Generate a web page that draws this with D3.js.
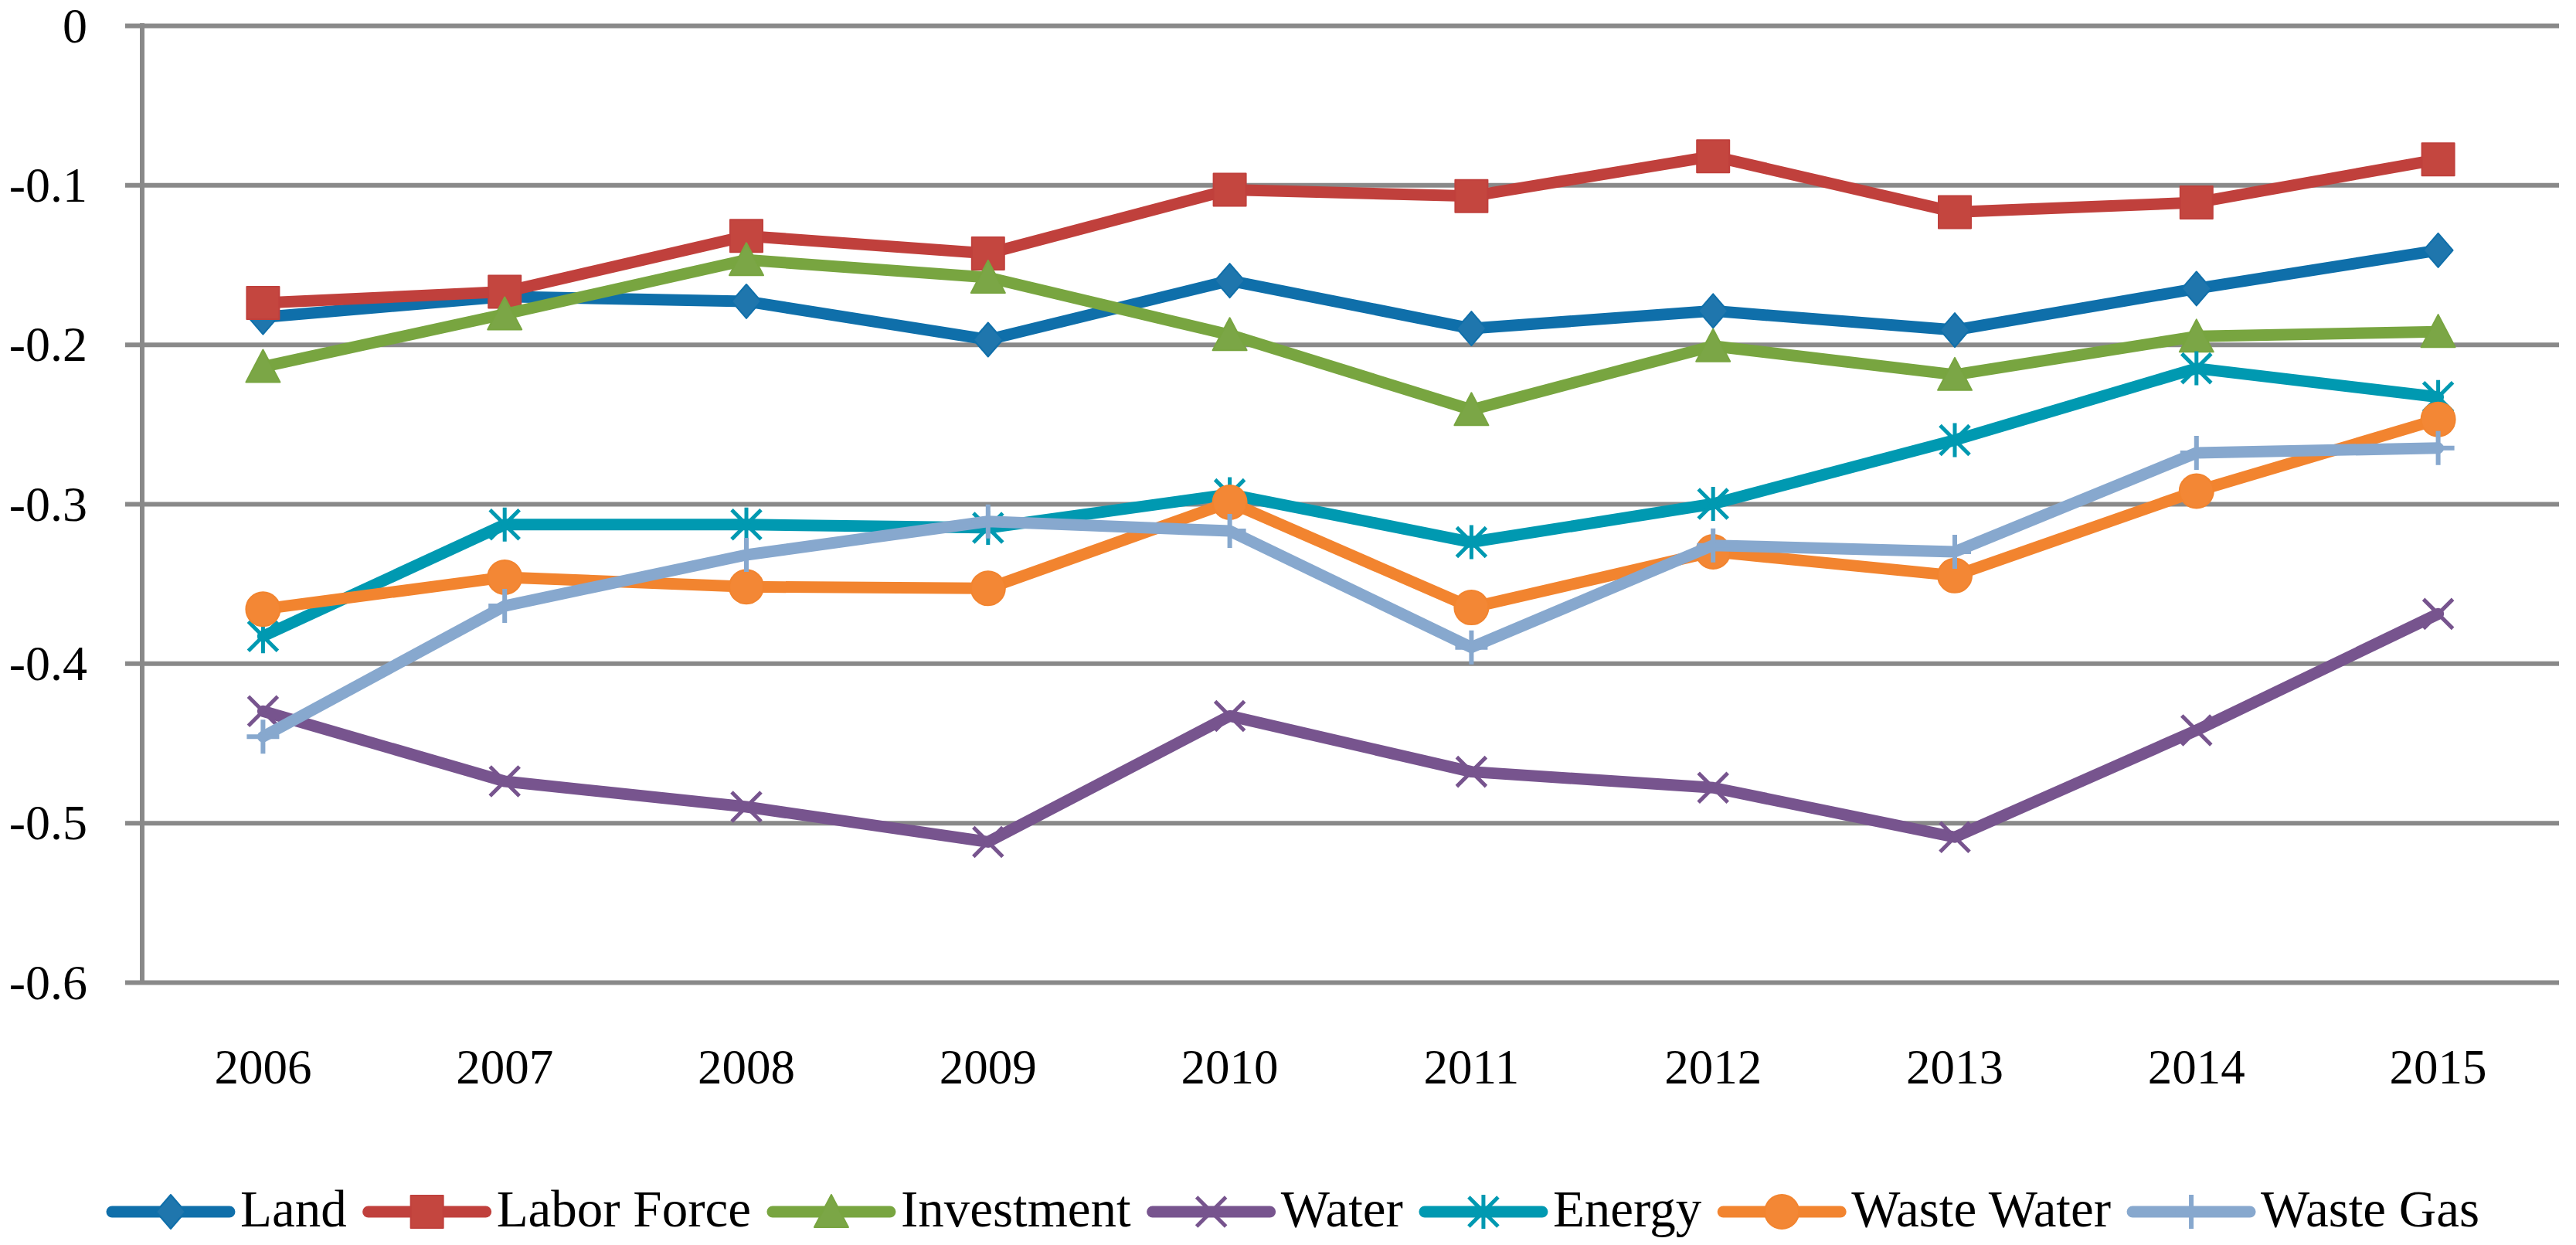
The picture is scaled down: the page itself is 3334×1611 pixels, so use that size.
<!DOCTYPE html>
<html>
<head>
<meta charset="utf-8">
<script src="https://cdn.jsdelivr.net/npm/d3@7"></script>
<style>
  body { margin: 0; background: #fff; }
  text { font-family: "Liberation Serif", "DejaVu Serif", serif; fill: #000; }
</style>
</head>
<body>
<div id="chart"></div>
<script>
// values
const years = ['2006', '2007', '2008', '2009', '2010', '2011', '2012', '2013', '2014', '2015']
const yTicks = [0, -0.1, -0.2, -0.3, -0.4, -0.5, -0.6]

const land = [-0.183, -0.170, -0.173, -0.197, -0.160, -0.190, -0.179, -0.191, -0.165, -0.141]
const laborForce = [-0.174, -0.167, -0.132, -0.143, -0.103, -0.107, -0.082, -0.117, -0.111, -0.084]
const investment = [-0.214, -0.181, -0.147, -0.158, -0.194, -0.241, -0.201, -0.219, -0.195, -0.192]
const water = [-0.430, -0.474, -0.490, -0.512, -0.433, -0.468, -0.478, -0.509, -0.442, -0.369]
const energy = [-0.383, -0.313, -0.313, -0.315, -0.294, -0.324, -0.300, -0.260, -0.215, -0.233]
const wasteWater = [-0.366, -0.346, -0.352, -0.353, -0.299, -0.365, -0.330, -0.345, -0.292, -0.247]
const wasteGas = [-0.446, -0.364, -0.332, -0.311, -0.317, -0.390, -0.326, -0.330, -0.268, -0.265]

const seriesNames = ['Land', 'Labor Force', 'Investment', 'Water', 'Energy', 'Waste Water', 'Waste Gas']
const seriesValues = [land, laborForce, investment, water, energy, wasteWater, wasteGas]
const lineColors = ['#0F6FAA', '#C0403C', '#78A540', '#77548E', '#0099B1', '#F2842F', '#87A8CE']
const markerColors = ['#1F76AD', '#C4463F', '#7BA646', '#77548E', '#0099B1', '#F38735', '#87A8CE']
const markerTypes = ['diamond', 'square', 'triangle', 'x', 'star', 'circle', 'plus']

const width = 3334, height = 1611
const plotLeft = 184, plotRight = 3312, plotTop = 33, plotBottom = 1271

const svg = d3.select('#chart').append('svg')
  .attr('width', width)
  .attr('height', height)

const x = d3.scaleBand().domain(years).range([plotLeft, plotRight])
const cx = d => x(d) + x.bandwidth() / 2
const y = d3.scaleLinear().domain([-0.6, 0]).range([plotBottom, plotTop])

// gridlines + left ticks + labels in one axis
const yAxis = svg.append('g')
  .attr('transform', 'translate(' + plotRight + ',0)')
  .call(d3.axisLeft(y).tickValues(yTicks).tickSizeInner(plotRight - 162).tickSizeOuter(0).tickPadding(49)
    .tickFormat(d => d === 0 ? '0' : d.toFixed(1)))
yAxis.select('.domain').remove()
yAxis.selectAll('line').attr('stroke', '#898989').attr('stroke-width', 6)
yAxis.selectAll('text').attr('font-size', 64).attr('dy', '0.33em')
  .style('font-family', '"Liberation Serif", serif')

svg.append('line')
  .attr('x1', plotLeft).attr('x2', plotLeft)
  .attr('y1', plotTop - 3).attr('y2', plotBottom + 3)
  .attr('stroke', '#898989').attr('stroke-width', 6)

const xAxis = svg.append('g')
  .attr('transform', 'translate(0,' + plotBottom + ')')
  .call(d3.axisBottom(x).tickSize(0))
xAxis.select('.domain').remove()
xAxis.selectAll('text').attr('font-size', 63).attr('y', 131).attr('dy', 0)
  .style('font-family', '"Liberation Serif", serif')

function markerPath(type) {
  switch (type) {
    case 'diamond': return 'M0,-22L19,0L0,22L-19,0Z'
    case 'square': return 'M-21,-21H21V21H-21Z'
    case 'triangle': return 'M0,-22L22,20L-22,20Z'
    case 'circle': return d3.symbol(d3.symbolCircle, Math.PI * 22 * 22)()
    case 'x': return 'M-19,-19L19,19M19,-19L-19,19'
    case 'star': return 'M-19,-19L19,19M19,-19L-19,19M0,-22V22'
    case 'plus': return 'M-21,0H21M0,-22V22'
  }
}
const isStroked = t => t === 'x' || t === 'star' || t === 'plus'

function drawMarker(g, type, i) {
  const p = g.append('path').attr('d', markerPath(type))
  if (isStroked(type)) {
    p.attr('fill', 'none').attr('stroke', markerColors[i]).attr('stroke-width', type === 'plus' ? 6 : 5)
  } else {
    p.attr('fill', markerColors[i]).attr('stroke', lineColors[i]).attr('stroke-width', 2)
      .attr('stroke-linejoin', 'round')
  }
  return p
}

const line = d3.line().x((d, i) => cx(years[i])).y(d => y(d))

seriesValues.forEach((vals, i) => {
  const g = svg.append('g').attr('class', 'series')
  g.append('path')
    .attr('d', line(vals))
    .attr('fill', 'none')
    .attr('stroke', lineColors[i])
    .attr('stroke-width', 15)
    .attr('stroke-linejoin', 'round')
    .attr('stroke-linecap', 'round')
  vals.forEach((v, j) => {
    const m = g.append('g').attr('transform', 'translate(' + cx(years[j]) + ',' + y(v) + ')')
    drawMarker(m, markerTypes[i], i)
  })
})

// legend, laid out from text widths and centred
const legend = svg.append('g')
const legendY = 1568
const items = []
let pos = 0
seriesNames.forEach((name, i) => {
  const item = legend.append('g')
  item.append('line')
    .attr('x1', 0).attr('x2', 152)
    .attr('y1', 0).attr('y2', 0)
    .attr('stroke', lineColors[i]).attr('stroke-width', 15).attr('stroke-linecap', 'round')
  drawMarker(item.append('g').attr('transform', 'translate(76,0)'), markerTypes[i], i)
  const t = item.append('text')
    .attr('x', 166).attr('y', 19)
    .attr('font-size', 67)
    .text(name)
  const w = t.node().getComputedTextLength()
  items.push({ item, x: pos })
  pos += 166 + w + 28
})
const total = pos - 28
const start = 1677 - total / 2
items.forEach(d => d.item.attr('transform', 'translate(' + (start + d.x) + ',' + legendY + ')'))
</script>
</body>
</html>
